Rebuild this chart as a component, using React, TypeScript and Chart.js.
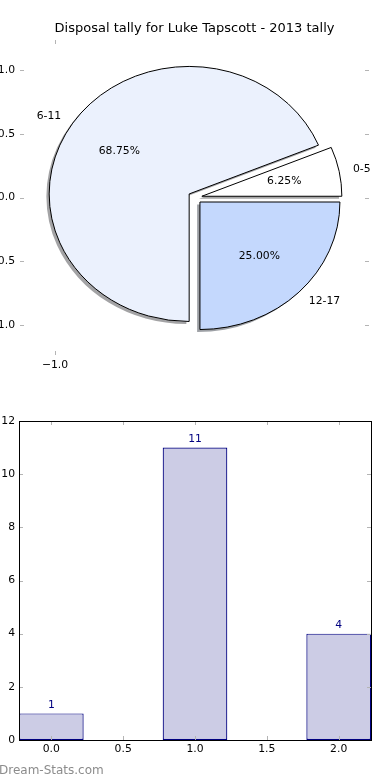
import React, { useEffect, useRef } from 'react';
import { Chart, registerables } from 'chart.js';

Chart.register(...registerables);

// ---------- data ----------
const titleText = 'Disposal tally for Luke Tapscott - 2013 tally';
const watermarkText = 'Dream-Stats.com';

const pieLabels = ['0-5', '6-11', '12-17'];
const pieValues = [1, 11, 4];
const pieColors = ['#ffffff', '#ebf1fd', '#c4d8fd'];
const pieExplode = [0.05, 0.05, 0.05];
const pieXTicks = [-1];
const pieYTicks = [-1, -0.5, 0, 0.5, 1];

const barPositions = [0, 1, 2];
const barValues = [1, 11, 4];
const barXTicks = [0, 0.5, 1, 1.5, 2];
const barYTicks = [0, 2, 4, 6, 8, 10, 12];

const FONT = '"DejaVu Sans", sans-serif';
const TICK_SIZE = 10.8;

const fmt1 = (v: number) => (v < 0 ? '\u2212' : '') + Math.abs(v).toFixed(1);

function hexToRgb(h: string): [number, number, number] {
  const n = parseInt(h.slice(1), 16);
  return [(n >> 16) & 255, (n >> 8) & 255, n & 255];
}

// inward tick marks on all four sides, from the scales' ticks
const inwardTicks = {
  id: 'inwardTicks',
  afterDraw(chart: any) {
    const { ctx, chartArea: a } = chart;
    const xs = chart.scales.x;
    const ys = chart.scales.y;
    ctx.save();
    ctx.strokeStyle = '#b4b4b4';
    ctx.lineWidth = 1;
    ctx.beginPath();
    xs.ticks.forEach((t: any) => {
      const p = Math.round(xs.getPixelForValue(t.value)) + 0.5;
      ctx.moveTo(p, a.top);
      ctx.lineTo(p, a.top + 4);
      ctx.moveTo(p, a.bottom);
      ctx.lineTo(p, a.bottom - 4);
    });
    ys.ticks.forEach((t: any) => {
      const p = Math.round(ys.getPixelForValue(t.value)) + 0.5;
      ctx.moveTo(a.left, p);
      ctx.lineTo(a.left + 4, p);
      ctx.moveTo(a.right, p);
      ctx.lineTo(a.right - 4, p);
    });
    ctx.stroke();
    ctx.restore();
  },
};

const framePlugin = {
  id: 'frame',
  afterDraw(chart: any) {
    const { ctx, chartArea: a } = chart;
    ctx.save();
    ctx.strokeStyle = '#000000';
    ctx.lineWidth = 1;
    ctx.strokeRect(Math.round(a.left) + 0.5, Math.round(a.top) + 0.5, Math.round(a.right - a.left), Math.round(a.bottom - a.top));
    ctx.restore();
  },
};

// pie drawn in data coordinates through the scatter chart's scales
const piePlugin = {
  id: 'pieWedges',
  afterDatasetsDraw(chart: any) {
    const { ctx } = chart;
    const xs = chart.scales.x;
    const ys = chart.scales.y;
    const px = (v: number) => xs.getPixelForValue(v);
    const py = (v: number) => ys.getPixelForValue(v);
    const rx = px(1) - px(0);
    const ry = py(0) - py(1);
    const total = pieValues.reduce((s, v) => s + v, 0);
    let start = 0;
    const wedges = pieValues.map((v, i) => {
      const frac = v / total;
      const t1 = start;
      const t2 = start + frac * Math.PI * 2;
      start = t2;
      const mid = (t1 + t2) / 2;
      return { t1, t2, mid, frac, cx: pieExplode[i] * Math.cos(mid), cy: pieExplode[i] * Math.sin(mid) };
    });
    const path = (w: any, dx: number, dy: number) => {
      const X = px(w.cx + dx);
      const Y = py(w.cy + dy);
      ctx.beginPath();
      ctx.moveTo(X, Y);
      ctx.ellipse(X, Y, rx, ry, 0, -w.t1, -w.t2, true);
      ctx.closePath();
    };
    ctx.save();
    // shadows
    wedges.forEach((w, i) => {
      const [r, g, b] = hexToRgb(pieColors[i]);
      const c = `rgba(${Math.round(r * 0.3)},${Math.round(g * 0.3)},${Math.round(b * 0.3)},0.5)`;
      path(w, -0.02, -0.02);
      ctx.fillStyle = c;
      ctx.fill();
    });
    // wedges
    wedges.forEach((w, i) => {
      path(w, 0, 0);
      ctx.fillStyle = pieColors[i];
      ctx.fill();
      ctx.strokeStyle = '#000000';
      ctx.lineWidth = 1;
      ctx.stroke();
    });
    // labels
    ctx.fillStyle = '#000000';
    ctx.font = `${TICK_SIZE}px ${FONT}`;
    ctx.textBaseline = 'middle';
    wedges.forEach((w, i) => {
      const lx = w.cx + 1.1 * Math.cos(w.mid);
      const ly = w.cy + 1.1 * Math.sin(w.mid);
      ctx.textAlign = lx > 0 ? 'left' : 'right';
      ctx.fillText(pieLabels[i], px(lx), py(ly));
      const tx = w.cx + 0.6 * Math.cos(w.mid);
      const ty = w.cy + 0.6 * Math.sin(w.mid);
      ctx.textAlign = 'center';
      ctx.fillText((w.frac * 100).toFixed(2) + '%', px(tx), py(ty));
    });
    ctx.restore();
  },
};

const barLabels = {
  id: 'barLabels',
  afterDatasetsDraw(chart: any) {
    const { ctx } = chart;
    const meta = chart.getDatasetMeta(0);
    ctx.save();
    ctx.fillStyle = '#000080';
    ctx.font = `${TICK_SIZE}px ${FONT}`;
    ctx.textAlign = 'center';
    ctx.textBaseline = 'bottom';
    meta.data.forEach((el: any, i: number) => {
      ctx.fillText(String(barValues[i]), el.x, el.y - 3);
    });
    ctx.restore();
  },
};

const tickFont = { family: FONT, size: TICK_SIZE };

function PieChart() {
  const ref = useRef<HTMLCanvasElement>(null);
  useEffect(() => {
    const chart = new Chart(ref.current as HTMLCanvasElement, {
      type: 'scatter',
      data: { datasets: [] },
      options: {
        animation: false,
        responsive: false,
        layout: { padding: { right: 21 } },
        plugins: {
          legend: { display: false },
          tooltip: { enabled: false },
          title: {
            display: true,
            fullSize: false,
            text: titleText,
            color: '#000000',
            font: { family: FONT, size: 13, weight: 'normal', lineHeight: 1.2 },
            padding: { top: 21, bottom: 3.4 },
          },
        },
        scales: {
          x: {
            type: 'linear',
            min: -1.25,
            max: 1.243,
            grid: { display: false, drawTicks: false },
            border: { display: false },
            ticks: { color: '#000000', font: tickFont, padding: 4, callback: (v: any) => fmt1(Number(v)) },
            afterBuildTicks: (s: any) => { s.ticks = pieXTicks.map((v) => ({ value: v })); },
            afterFit: (s: any) => { s.height = 35; },
          },
          y: {
            type: 'linear',
            min: -1.235,
            max: 1.235,
            grid: { display: false, drawTicks: false },
            border: { display: false },
            ticks: { color: '#000000', font: tickFont, padding: 5, callback: (v: any) => fmt1(Number(v)) },
            afterBuildTicks: (s: any) => { s.ticks = pieYTicks.map((v) => ({ value: v })); },
            afterFit: (s: any) => { s.width = 20; },
          },
        },
      } as any,
      plugins: [piePlugin, inwardTicks],
    });
    return () => chart.destroy();
  }, []);
  return <canvas ref={ref} width={390} height={390} style={{ display: 'block' }} />;
}

function BarChart() {
  const ref = useRef<HTMLCanvasElement>(null);
  useEffect(() => {
    const chart = new Chart(ref.current as HTMLCanvasElement, {
      type: 'bar',
      data: {
        datasets: [
          {
            data: barPositions.map((x, i) => ({ x, y: barValues[i] })),
            backgroundColor: '#ccccE5',
            borderColor: '#000080',
            borderWidth: 1.2,
            borderSkipped: false,
            barPercentage: 0.9,
            categoryPercentage: 1,
          },
        ],
      },
      options: {
        animation: false,
        responsive: false,
        layout: { padding: { top: 31, right: 19 } },
        plugins: { legend: { display: false }, tooltip: { enabled: false }, title: { display: false } },
        scales: {
          x: {
            type: 'linear',
            offset: false,
            min: -0.225,
            max: 2.225,
            grid: { display: false, drawTicks: false, offset: false },
            border: { display: false },
            ticks: { color: '#000000', font: tickFont, padding: 3, callback: (v: any) => fmt1(Number(v)) },
            afterBuildTicks: (s: any) => { s.ticks = barXTicks.map((v) => ({ value: v })); },
            afterFit: (s: any) => { s.height = 40; },
          },
          y: {
            type: 'linear',
            min: 0,
            max: 12,
            grid: { display: false, drawTicks: false },
            border: { display: false },
            ticks: { color: '#000000', font: tickFont, padding: 4, callback: (v: any) => String(v) },
            afterBuildTicks: (s: any) => { s.ticks = barYTicks.map((v) => ({ value: v })); },
            afterFit: (s: any) => { s.width = 19; },
          },
        },
      } as any,
      plugins: [barLabels, inwardTicks, framePlugin],
    });
    return () => chart.destroy();
  }, []);
  return <canvas ref={ref} width={390} height={390} style={{ display: 'block' }} />;
}

export default function App() {
  return (
    <div style={{ position: 'absolute', left: 0, top: 0, width: 390, height: 780, overflow: 'hidden', background: '#ffffff' }}>
      <div style={{ position: 'absolute', left: 0, top: 0 }}>
        <PieChart />
      </div>
      <div style={{ position: 'absolute', left: 0, top: 390 }}>
        <BarChart />
      </div>
      <div
        style={{
          position: 'absolute',
          left: -1,
          top: 762,
          fontFamily: FONT,
          fontSize: 12,
          lineHeight: '16px',
          color: '#8c8c8c',
          whiteSpace: 'nowrap',
        }}
      >
        {watermarkText}
      </div>
    </div>
  );
}
